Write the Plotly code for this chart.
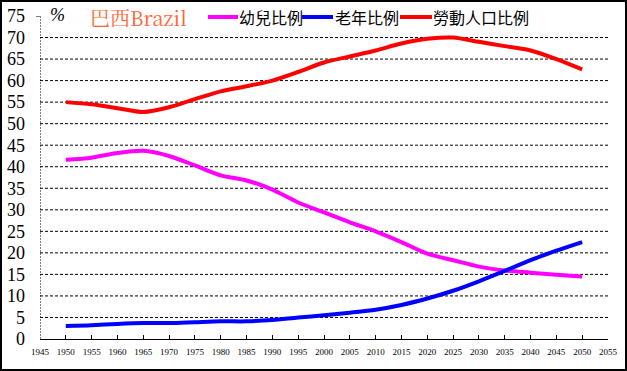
import plotly.graph_objects as go

years = list(range(1950, 2051, 5))
children = [41.6, 42.1, 43.2, 43.7, 42.5, 40.3, 38.0, 36.8, 34.7, 31.7, 29.4,
            27.1, 25.0, 22.5, 19.8, 18.3, 16.8, 15.9, 15.4, 14.9, 14.5]
elderly = [3.0, 3.2, 3.5, 3.7, 3.7, 3.9, 4.1, 4.1, 4.4, 5.0, 5.5,
           6.1, 6.8, 7.9, 9.4, 11.2, 13.4, 15.8, 18.3, 20.5, 22.5]
labor = [55.0, 54.5, 53.6, 52.7, 53.8, 55.7, 57.5, 58.7, 60.0, 62.0, 64.2,
         65.6, 67.0, 68.6, 69.7, 70.0, 69.0, 68.0, 67.0, 65.0, 62.6]
series_names = ["幼兒比例", "老年比例", "勞動人口比例"]
series_colors = ["#FF00FF", "#0000FF", "#FF0000"]
x_ticks = list(range(1945, 2056, 5))
y_ticks = list(range(0, 76, 5))

W, H = 627, 371
ml, mr, mt, mb = 40, 19, 16, 32
pw, ph = W - ml - mr, H - mt - mb


def px_x(p):
    return (p - ml) / pw


def px_y(p):
    return 1 - (p - mt) / ph


fig = go.Figure()
for name, vals, col in zip(series_names, [children, elderly, labor], series_colors):
    fig.add_trace(go.Scatter(x=years, y=vals, name=name, mode="lines", showlegend=False,
                             line=dict(color=col, width=4, shape="spline", smoothing=0.8)))

shapes = []
for v in y_ticks[1:-1]:
    shapes.append(dict(type="line", xref="x", yref="y", x0=1945, x1=2055, y0=v, y1=v,
                       line=dict(color="black", width=1, dash="3px,2px"), layer="below"))
shapes.append(dict(type="line", xref="x", yref="y", x0=1945, x1=1945, y0=0, y1=75,
                   line=dict(color="black", width=1, dash="2px,1px")))
shapes.append(dict(type="line", xref="paper", yref="y", x0=px_x(36), x1=px_x(40), y0=75, y1=75,
                   line=dict(color="black", width=1)))
# outer frame
shapes.append(dict(type="rect", xref="paper", yref="paper",
                   x0=px_x(1), x1=px_x(626), y0=px_y(370), y1=px_y(1),
                   line=dict(color="black", width=2)))

# manual legend
legend_pos = [(208, 238, 239), (302, 333, 335), (400, 432, 433)]
annotations = []
ly = px_y(17)
for (x0, x1, tx), name, col in zip(legend_pos, series_names, series_colors):
    shapes.append(dict(type="line", xref="paper", yref="paper", x0=px_x(x0), x1=px_x(x1),
                       y0=ly, y1=ly, line=dict(color=col, width=4)))
    annotations.append(dict(text=name, xref="paper", yref="paper", x=px_x(tx), xanchor="left",
                            y=ly, yanchor="middle", showarrow=False, xshift=-2,
                            font=dict(family="Noto Sans CJK TC", size=16, color="black")))

annotations += [
    dict(text="巴西Brazil", xref="paper", yref="paper", x=px_x(88), xanchor="left",
         y=px_y(17), yanchor="middle", showarrow=False,
         font=dict(family="Noto Serif CJK TC, Liberation Serif", size=20, color="#FF6633")),
    dict(text="<i>%</i>", xref="paper", yref="paper", x=px_x(48), xanchor="left",
         y=px_y(15), yanchor="middle", showarrow=False,
         font=dict(family="Liberation Serif", size=18, color="black")),
]

fig.update_layout(
    width=W, height=H,
    margin=dict(l=ml, r=mr, t=mt, b=mb, autoexpand=False),
    paper_bgcolor="white", plot_bgcolor="white",
    shapes=shapes,
    annotations=annotations,
    showlegend=False,
    xaxis=dict(range=[1945, 2055], tickvals=x_ticks, ticktext=[str(t) for t in x_ticks],
               showgrid=False, zeroline=False, showline=True, linecolor="black", linewidth=1,
               ticks="inside", ticklen=4, tickcolor="black", ticklabelstandoff=4,
               tickfont=dict(family="Liberation Serif", size=9, color="black")),
    yaxis=dict(range=[0, 75], tickvals=y_ticks, showgrid=False, zeroline=False,
               showline=False, ticks="", ticklabelstandoff=14,
               tickfont=dict(family="Liberation Serif", size=18, color="black")),
)

fig.write_html("out.html", config={"displayModeBar": False},
               post_script="document.body.style.margin='0';document.body.style.overflow='hidden';")
